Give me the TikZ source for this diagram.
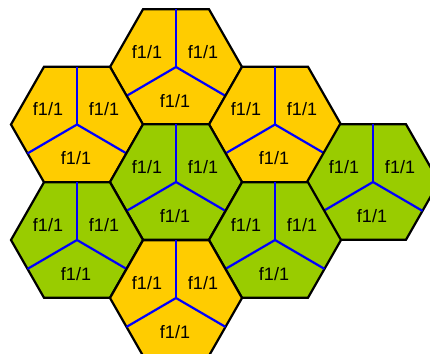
\documentclass[tikz,border=0pt]{standalone}
\usepackage{fontspec}
\setmainfont{Liberation Sans}
\usetikzlibrary{calc}
\definecolor{cellyellow}{HTML}{FFCC00}
\definecolor{cellgreen}{HTML}{99CC00}

\begin{document}
\begin{tikzpicture}[x=1pt, y=-1pt,
  cell/.style={draw=black, line width=2.2pt, line join=miter},
  split/.style={draw=blue, line width=2.2pt},
  lbl/.style={inner sep=0pt, font=\fontsize{18}{20}\selectfont}]
\clip (0,0) rectangle (430,353);
\foreach \n/\cx/\cy/\col in {1/176/67/cellyellow, 2/77/124.5/cellyellow,
    3/275/124.5/cellyellow, 4/176/182/cellgreen, 5/373/182/cellgreen,
    6/77/240/cellgreen, 7/275/240/cellgreen, 8/176/298/cellyellow}{
  \coordinate (c\n) at (\cx,\cy);
  \filldraw[cell, fill=\col] ($(c\n)+(-66,0)$) -- ++(33,-57.75) -- ++(66,0)
    -- ++(33,57.75) -- ++(-33,57.75) -- ++(-66,0) -- cycle;
  \draw[split] (c\n) -- ++(0,-57.75);
  \draw[split] (c\n) -- ++(-49.5,28.9);
  \draw[split] (c\n) -- ++(49.5,28.9);
  \node[lbl] (l\n a) at ($(c\n)+(-29,-15)$) {f1/1};
  \node[lbl] (l\n b) at ($(c\n)+(27,-15)$) {f1/1};
  \node[lbl] (l\n c) at ($(c\n)+(-1,34)$) {f1/1};
}
\end{tikzpicture}
\end{document}
